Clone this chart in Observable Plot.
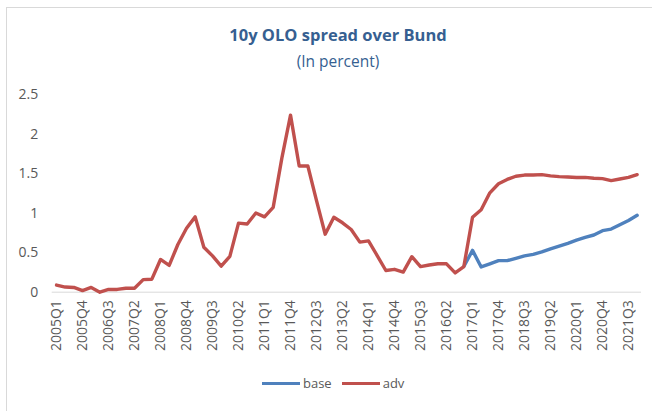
<!DOCTYPE html>
<html><head><meta charset="utf-8">
<script src="https://cdn.jsdelivr.net/npm/d3@7"></script>
<script src="https://cdn.jsdelivr.net/npm/@observablehq/plot@0.6"></script>
<style>
body{margin:0;background:#fff;width:652px;height:411px;overflow:hidden;position:relative;font-family:"Open Sans",sans-serif;}
#frame{position:absolute;left:6px;top:7px;width:700px;height:500px;border-left:1px solid #d9d9d9;border-top:1px solid #d9d9d9;}
.t{position:absolute;left:24px;width:628px;text-align:center;color:#365F91;white-space:nowrap;}
#title{top:24px;font-size:16.5px;font-weight:700;line-height:22px;}
#sub{top:50px;font-size:15.5px;line-height:22px;}
#chart{position:absolute;left:0;top:75px;}
#legend{position:absolute;left:262px;top:373px;height:20px;display:flex;align-items:center;font-size:13px;color:#595959;}
.sw{width:38px;height:3px;margin-right:3px;}
.lab{margin-right:10px;}
</style></head>
<body>
<div id="frame"></div>
<div class="t" id="title">10y OLO spread over Bund</div>
<div class="t" id="sub">(In percent)</div>
<div id="chart"></div>
<div id="legend"></div>
<script>
const years = d3.range(2005, 2022);
const quarterNames = ["Q1","Q2","Q3","Q4"];
const quarters = years.flatMap(y => quarterNames.map(q => y + q));
const yTicks = [0, 0.5, 1, 1.5, 2, 2.5];
const seriesNames = ["base", "adv"];
const seriesColors = ["#4F81BD", "#C0504D"];

const adv = [
  0.09, 0.065, 0.06, 0.02, 0.06, 0.00, 0.035, 0.035, 0.05, 0.05,
  0.16, 0.165, 0.415, 0.34, 0.605, 0.81, 0.955, 0.57, 0.46, 0.33,
  0.455, 0.875, 0.865, 1.005, 0.955, 1.075, 1.70, 2.245, 1.60, 1.60,
  1.16, 0.735, 0.95, 0.88, 0.795, 0.635, 0.65, 0.465, 0.275, 0.29,
  0.255, 0.45, 0.325, 0.345, 0.36, 0.36, 0.245, 0.325, 0.95, 1.045,
  1.26, 1.375, 1.43, 1.47, 1.485, 1.485, 1.49, 1.475, 1.465, 1.46,
  1.455, 1.455, 1.445, 1.44, 1.415, 1.435, 1.455, 1.49
];
const base = [
  null, null, null, null, null, null, null, null, null, null,
  null, null, null, null, null, null, null, null, null, null,
  null, null, null, null, null, null, null, null, null, null,
  null, null, null, null, null, null, null, null, null, null,
  null, null, null, null, null, null, null, 0.325, 0.53, 0.32,
  0.36, 0.40, 0.40, 0.43, 0.46, 0.48, 0.51, 0.55, 0.585, 0.62,
  0.66, 0.695, 0.725, 0.78, 0.80, 0.855, 0.91, 0.975
];

const rows = (vals, name) => quarters.map((q, i) => ({q, v: vals[i], name}));

const chart = Plot.plot({
  width: 652, height: 290,
  marginLeft: 51.7, marginRight: 11, marginTop: 19.5, marginBottom: 73.3,
  style: {fontFamily: '"Open Sans", sans-serif', color: "#595959", background: "transparent"},
  x: {type: "point", domain: quarters, padding: 0.5, label: null},
  y: {domain: [0, 2.5], label: null},
  marks: [
    Plot.ruleY([0], {stroke: "#d9d9d9", strokeWidth: 1}),
    Plot.axisY({ticks: yTicks, tickSize: 0, tickPadding: 14, tickFormat: d => String(d), fontSize: 14, fill: "#595959", label: null}),
    Plot.axisX({ticks: quarters.filter((d, i) => i % 3 === 0), tickSize: 0, tickRotate: -90, tickPadding: 8, fontSize: 14, fill: "#595959", label: null}),
    Plot.lineY(rows(base, "base"), {x: "q", y: "v", stroke: seriesColors[0], strokeWidth: 3.4, strokeLinejoin: "round", strokeLinecap: "round", defined: d => d.v != null}),
    Plot.lineY(rows(adv, "adv"), {x: "q", y: "v", stroke: seriesColors[1], strokeWidth: 3.4, strokeLinejoin: "round", strokeLinecap: "round"})
  ]
});
document.getElementById("chart").appendChild(chart);

const leg = document.getElementById("legend");
seriesNames.forEach((n, i) => {
  const sw = document.createElement("div");
  sw.className = "sw"; sw.style.background = seriesColors[i];
  const lb = document.createElement("span");
  lb.className = "lab"; lb.textContent = n;
  leg.appendChild(sw); leg.appendChild(lb);
});
</script>
</body></html>
